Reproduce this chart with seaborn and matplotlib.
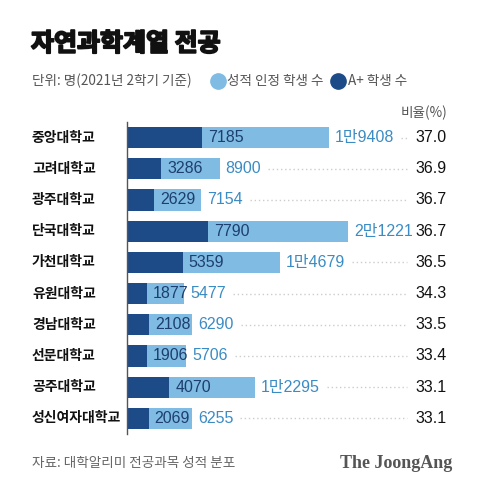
import matplotlib
matplotlib.use("Agg")
import matplotlib.pyplot as plt
import matplotlib.transforms as mtrans
import matplotlib.patheffects as pe
from matplotlib.lines import Line2D
import seaborn as sns
import pandas as pd

# ---- data ----
universities = ["중앙대학교", "고려대학교", "광주대학교", "단국대학교", "가천대학교",
                "유원대학교", "경남대학교", "선문대학교", "공주대학교", "성신여자대학교"]
total_students = [19408, 8900, 7154, 21221, 14679, 5477, 6290, 5706, 12295, 6255]
aplus_students = [7185, 3286, 2629, 7790, 5359, 1877, 2108, 1906, 4070, 2069]
ratio_pct = [37.0, 36.9, 36.7, 36.7, 36.5, 34.3, 33.5, 33.4, 33.1, 33.1]

title = "자연과학계열 전공"
unit_text = "단위: 명(2021년 2학기 기준)"
legend_total = "성적 인정 학생 수"
legend_aplus = "A+ 학생 수"
ratio_header = "비율(%)"
source_text = "자료: 대학알리미 전공과목 성적 분포"
brand_text = "The JoongAng"

LIGHT = "#80bbe3"
DARK = "#1d4b87"
LIGHT_TXT = "#3b8cc4"
DARK_TXT = "#1d3f70"
GREY = "#666666"

sns.set_theme(style="white")
plt.rcParams["font.family"] = ["Noto Sans CJK KR", "DejaVu Sans"]
NUMFONT = ["Liberation Sans", "Noto Sans CJK KR"]

df = pd.DataFrame({"uni": universities, "total": total_students, "aplus": aplus_students})

W, H = 480, 492
fig = plt.figure(figsize=(W / 100, H / 100), dpi=100)
fig.patch.set_facecolor("white")

ax_left, ax_right = 127, 447
ax_top, ax_bottom = 122, 434
ax = fig.add_axes([ax_left / W, 1 - ax_bottom / H, (ax_right - ax_left) / W, (ax_bottom - ax_top) / H])

sns.barplot(data=df, y="uni", x="total", color=LIGHT, width=0.68, ax=ax, orient="h",
            saturation=1, edgecolor="none")
sns.barplot(data=df, y="uni", x="aplus", color=DARK, width=0.68, ax=ax, orient="h",
            saturation=1, edgecolor="none")

px_per_unit = (329 - 127) / 19408.0
ax.set_xlim(0, (ax_right - ax_left) / px_per_unit)
ax.set_ylim(len(universities) - 0.5, -0.5)
ax.set_xlabel("")
ax.set_ylabel("")
ax.set_xticks([])
ax.set_yticks([])
for s in ["top", "right", "bottom"]:
    ax.spines[s].set_visible(False)
ax.spines["left"].set_color("#555555")
ax.spines["left"].set_linewidth(1.0)
ax.set_facecolor("none")


def fmt(v):
    if v >= 10000:
        return f"{v // 10000}만{v % 10000:04d}"
    return str(v)


blend_fig_data = mtrans.blended_transform_factory(fig.transFigure, ax.transData)
blend_axes_data = mtrans.blended_transform_factory(ax.transAxes, ax.transData)
off_dark = mtrans.offset_copy(ax.transData, fig=fig, x=6, y=0, units="dots")
off_light = mtrans.offset_copy(ax.transData, fig=fig, x=6, y=0, units="dots")

light_labels = []
for i, (u, t, a, r) in enumerate(zip(universities, total_students, aplus_students, ratio_pct)):
    ax.text(32 / W, i, u, transform=blend_fig_data, ha="left", va="center",
            fontsize=10, fontweight="bold", color="#111111")
    ax.text(a, i, fmt(a), transform=off_dark, ha="left", va="center",
            fontsize=11.5, color=DARK_TXT, family=NUMFONT)
    lt = ax.text(t, i, fmt(t), transform=off_light, ha="left", va="center",
                 fontsize=11.5, color=LIGHT_TXT, family=NUMFONT)
    light_labels.append(lt)
    ax.text(1.0, i, f"{r:.1f}", transform=blend_axes_data, ha="right", va="center",
            fontsize=11.5, color="#111111", family=NUMFONT)

fig.canvas.draw()
renderer = fig.canvas.get_renderer()
dot_end = 407
for i, lt in enumerate(light_labels):
    bb = lt.get_window_extent(renderer)
    start = bb.x1 + 7
    if start < dot_end - 4:
        ax.add_line(Line2D([start / W, dot_end / W], [i, i], transform=blend_fig_data,
                           color="#cccccc", lw=1.0, linestyle=(0, (1, 2)), clip_on=False))

# header texts
fig.text(31 / W, 1 - 44 / H, title, ha="left", va="center", fontsize=18,
         fontweight=900, color="#111111",
         path_effects=[pe.withStroke(linewidth=1.3, foreground="#111111")])
fig.text(32 / W, 1 - 81 / H, unit_text, ha="left", va="center", fontsize=9.8, color="#555555")
fig.add_artist(Line2D([218 / W], [1 - 81 / H], marker="o", markersize=11, color=LIGHT,
                      linestyle="none", transform=fig.transFigure))
fig.text(227 / W, 1 - 81 / H, legend_total, ha="left", va="center", fontsize=9.8, color="#555555")
fig.add_artist(Line2D([338 / W], [1 - 81 / H], marker="o", markersize=11, color=DARK,
                      linestyle="none", transform=fig.transFigure))
fig.text(348 / W, 1 - 81 / H, legend_aplus, ha="left", va="center", fontsize=9.8, color="#555555")
fig.text(ax_right / W, 1 - 113 / H, ratio_header, ha="right", va="center", fontsize=9.8,
         color="#555555")

# footer
fig.text(32 / W, 1 - 463 / H, source_text, ha="left", va="center", fontsize=9.8, color=GREY)
fig.text(452 / W, 1 - 463 / H, brand_text, ha="right", va="center", fontsize=13,
         fontweight="bold", color="#555555", family=["Liberation Serif", "DejaVu Serif"])

fig.savefig("out.png", dpi=100, facecolor="white")
